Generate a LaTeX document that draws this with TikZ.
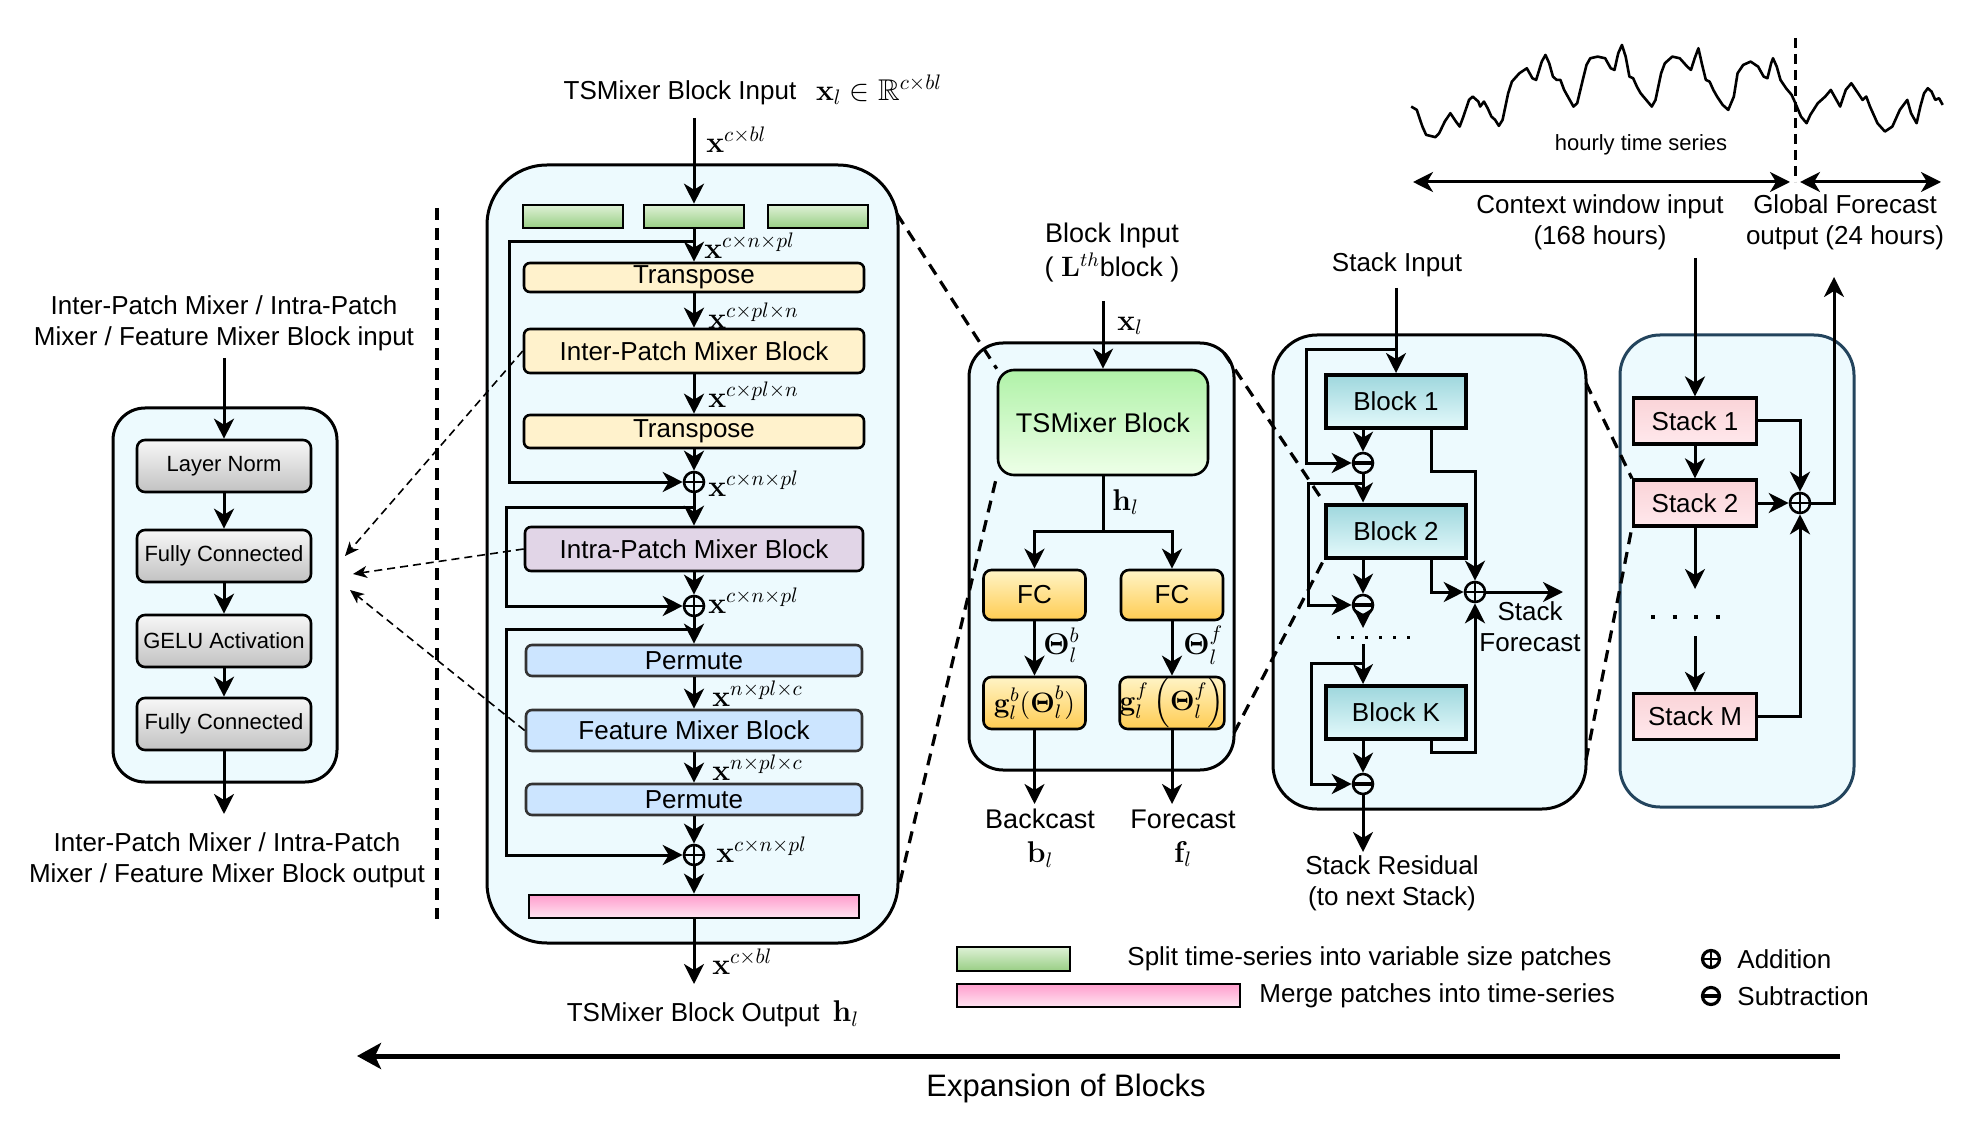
\RequirePackage{fix-cm}
\documentclass[tikz,border=0pt]{standalone}
\usepackage{amsmath,amssymb}
\usepackage[no-math]{fontspec}
\setmainfont{Liberation Sans}
\usepackage{tikz}
\usetikzlibrary{arrows,arrows.meta,positioning,shapes,backgrounds}

\definecolor{panelbg}{RGB}{237,250,254}
\definecolor{slate}{RGB}{35,68,93}
\definecolor{greentop}{RGB}{222,241,214}
\definecolor{greenbot}{RGB}{152,206,132}
\definecolor{cream}{RGB}{255,242,204}
\definecolor{lavender}{RGB}{225,213,231}
\definecolor{skyblue}{RGB}{204,229,255}
\definecolor{pinktop}{RGB}{255,158,205}
\definecolor{pinkbot}{RGB}{255,228,241}
\definecolor{tsmtop}{RGB}{176,242,168}
\definecolor{tsmbot}{RGB}{238,255,232}
\definecolor{fctop}{RGB}{255,244,198}
\definecolor{fcbot}{RGB}{255,204,82}
\definecolor{tealtop}{RGB}{158,215,221}
\definecolor{tealbot}{RGB}{228,249,251}
\definecolor{stacktop}{RGB}{250,212,216}
\definecolor{stackbot}{RGB}{255,232,236}

\newcommand{\lblsize}{\fontsize{15}{18}\selectfont}

\tikzstyle{panel}=[draw,line width=1.5pt,fill=panelbg,inner sep=0pt]
\tikzstyle{graybox}=[draw,line width=1.3pt,rounded corners=4pt,top color=gray!6,bottom color=gray!48,minimum width=87pt,minimum height=26pt,inner sep=0pt,font=\fontsize{11}{13}\selectfont]
\tikzstyle{patchbox}=[draw,line width=1.3pt,top color=greentop,bottom color=greenbot,minimum width=50pt,minimum height=11.5pt,inner sep=0pt]
\tikzstyle{mergebox}=[draw,line width=1.3pt,top color=pinktop,bottom color=pinkbot,minimum width=165pt,minimum height=11.5pt,inner sep=0pt]
\tikzstyle{yellowbox}=[draw,line width=1.3pt,rounded corners=3pt,fill=cream,minimum width=170pt,inner sep=0pt]
\tikzstyle{purplebox}=[draw,line width=1.3pt,rounded corners=3pt,fill=lavender,minimum width=169pt,minimum height=22pt,inner sep=0pt]
\tikzstyle{bluebox}=[draw=black!80,line width=1.3pt,rounded corners=3pt,fill=skyblue,minimum width=168pt,inner sep=0pt]
\tikzstyle{tsmbox}=[draw,line width=1.3pt,rounded corners=8pt,top color=tsmtop,bottom color=tsmbot,minimum width=105pt,minimum height=52.5pt,font=\fontsize{13.5}{16}\selectfont]
\tikzstyle{fcbox}=[draw,line width=1.3pt,rounded corners=4pt,top color=fctop,bottom color=fcbot,minimum width=51pt,minimum height=25pt,inner sep=0pt]
\tikzstyle{gfbox}=[fcbox,minimum height=26pt,font=\fontsize{14}{16}\selectfont]
\tikzstyle{blockbox}=[draw,line width=2pt,top color=tealtop,bottom color=tealbot,minimum width=70pt,minimum height=26.5pt,inner sep=0pt]
\tikzstyle{stackbox}=[draw,line width=1.6pt,top color=stacktop,bottom color=stackbot,minimum width=61.5pt,minimum height=23pt,inner sep=0pt]
\tikzstyle{addop}=[circle,draw,line width=1.3pt,fill=panelbg,minimum size=10pt,inner sep=0pt,
  path picture={\draw[line width=1.3pt] (path picture bounding box.north) -- (path picture bounding box.south)
    (path picture bounding box.west) -- (path picture bounding box.east);}]
\tikzstyle{subop}=[circle,draw,line width=1.3pt,fill=panelbg,minimum size=10pt,inner sep=0pt,
  path picture={\draw[line width=1.8pt] (path picture bounding box.west) -- (path picture bounding box.east);}]
\tikzstyle{arr}=[-{Stealth[length=10pt,width=10pt,inset=3pt]},line width=1.5pt]
\tikzstyle{wire}=[line width=1.5pt]
\tikzstyle{thinarr}=[-{Stealth[length=7pt,width=6pt,inset=2pt]},line width=0.8pt,dash pattern=on 4pt off 2.5pt]
\tikzstyle{zoomline}=[line width=1.6pt,dash pattern=on 6pt off 4pt]
\tikzstyle{mlbl}=[anchor=west,inner sep=0pt,font=\lblsize]
\tikzstyle{dotline}=[line width=1.5pt]

\begin{document}
\begin{tikzpicture}[x=0.5pt,y=-0.5pt,font=\fontsize{13}{15.5}\selectfont]
\useasboundingbox (0,0) rectangle (1972,1139);

% outer panels
\node[panel,rounded corners=16pt,minimum width=112pt,minimum height=187pt] (mixer) at (225,595) {};
\node[panel,rounded corners=30pt,minimum width=205.5pt,minimum height=389pt] (tsmx) at (692.5,554) {};
\node[panel,rounded corners=17pt,minimum width=132.5pt,minimum height=213.5pt] (blk) at (1101.5,556.5) {};
\node[panel,rounded corners=22pt,minimum width=156.5pt,minimum height=237pt] (stk) at (1429.5,572) {};
\node[panel,draw=slate,rounded corners=20pt,minimum width=117pt,minimum height=236pt] (glob) at (1737,571) {};

% mixer block
\node[align=center] (mixin) at (224,323) {Inter-Patch Mixer / Intra-Patch\\Mixer / Feature Mixer Block input};
\coordinate (mixtop) at (224,358);
\node[graybox] (ln) at (224,466) {Layer Norm};
\node[graybox] (fc1) at (224,556) {Fully Connected};
\node[graybox] (gelu) at (224,641) {GELU Activation};
\node[graybox] (fc2) at (224,724) {Fully Connected};
\coordinate (mixbot) at (224,814);
\node[align=center] (mixout) at (227,860) {Inter-Patch Mixer / Intra-Patch\\Mixer / Feature Mixer Block output};

\draw[arr] (mixtop) -- (ln);
\draw[arr] (ln) -- (fc1);
\draw[arr] (fc1) -- (gelu);
\draw[arr] (gelu) -- (fc2);
\draw[arr] (fc2) -- (mixbot);

\draw[zoomline] (437,208) -- (437,919);

% TSMixer block
\node (tsin) at (680,93) {TSMixer Block Input};
\node[font=\lblsize] (tsinx) at (879,90) {$\mathbf{x}_l \in \mathbb{R}^{c\times bl}$};
\coordinate (tstop) at (694,118);
\node[patchbox] (pa) at (573,216.5) {};
\node[patchbox] (pb) at (694,216.5) {};
\node[patchbox] (pc) at (818,216.5) {};
\node[yellowbox,minimum height=14.5pt] (tr1) at (694,277.5) {Transpose};
\node[yellowbox,minimum height=22pt] (inter) at (694,351) {Inter-Patch Mixer Block};
\node[yellowbox,minimum height=16.5pt] (tr2) at (694,431.5) {Transpose};
\node[addop] (add1) at (694,482) {};
\node[purplebox] (intra) at (694,549) {Intra-Patch Mixer Block};
\node[addop] (add2) at (694,606) {};
\node[bluebox,minimum height=15.5pt] (perm1) at (694,660.5) {Permute};
\node[bluebox,minimum height=20.5pt] (feat) at (694,730.5) {Feature Mixer Block};
\node[bluebox,minimum height=15.5pt] (perm2) at (694,799.5) {Permute};
\node[addop] (add3) at (694,855) {};
\node[mergebox] (merge) at (694,906.5) {};
\coordinate (tsbot) at (694,984);
\node (tsout) at (713,1014) {TSMixer Block Output\enspace{\lblsize$\mathbf{h}_l$}};

\draw[arr] (tstop) -- (pb);
\draw[arr] (pb) -- (tr1);
\draw[arr] (tr1) -- (inter);
\draw[arr] (inter) -- (tr2);
\draw[arr] (tr2) -- (add1);
\draw[arr] (add1) -- (intra);
\draw[arr] (intra) -- (add2);
\draw[arr] (add2) -- (perm1);
\draw[arr] (perm1) -- (feat);
\draw[arr] (feat) -- (perm2);
\draw[arr] (perm2) -- (add3);
\draw[arr] (add3) -- (merge);
\draw[arr] (merge) -- (tsbot);

% residual paths
\coordinate (sk1) at (694,242);
\coordinate (sk2) at (694,507);
\coordinate (sk3) at (694,629);
\draw[arr] (sk1) -- ++(-185,0) |- (add1);
\draw[arr] (sk2) -- ++(-188,0) |- (add2);
\draw[arr] (sk3) -- ++(-188,0) |- (add3);

\node[mlbl] (l0) at (706,140) {$\mathbf{x}^{c\times bl}$};
\node[mlbl] (l1) at (704,246) {$\mathbf{x}^{c\times n\times pl}$};
\node[mlbl] (l2) at (708,316) {$\mathbf{x}^{c\times pl\times n}$};
\node[mlbl] (l3) at (708,395) {$\mathbf{x}^{c\times pl\times n}$};
\node[mlbl] (l4) at (708,484) {$\mathbf{x}^{c\times n\times pl}$};
\node[mlbl] (l5) at (708,601) {$\mathbf{x}^{c\times n\times pl}$};
\node[mlbl] (l6) at (712,694) {$\mathbf{x}^{n\times pl\times c}$};
\node[mlbl] (l7) at (712,768) {$\mathbf{x}^{n\times pl\times c}$};
\node[mlbl] (l8) at (716,850) {$\mathbf{x}^{c\times n\times pl}$};
\node[mlbl] (l9) at (712,962) {$\mathbf{x}^{c\times bl}$};

\coordinate (t1) at (345,556);
\coordinate (t2) at (353,574);
\coordinate (t3) at (350,590);
\draw[thinarr] (inter.west) -- (t1);
\draw[thinarr] (intra.west) -- (t2);
\draw[thinarr] (feat.west) -- (t3);

% L-th block
\node[align=center,font=\fontsize{13.5}{17}\selectfont] (blkin) at (1112,253) {Block Input\\( {\fontsize{14}{16}\selectfont$\mathbf{L}^{th}$}block )};
\coordinate (blktop) at (1103,301);
\node[tsmbox] (tsm) at (1103,422.5) {TSMixer Block};
\node[mlbl] (xl) at (1117,326) {$\mathbf{x}_l$};
\coordinate (split) at (1103,531);
\node[mlbl] (hl) at (1112,502) {$\mathbf{h}_l$};
\node[fcbox] (fcb) at (1034.5,595) {FC};
\node[fcbox] (fcf) at (1172,595) {FC};
\node[gfbox] (gb) at (1034.5,703) {$\mathbf{g}_l^b(\boldsymbol{\Theta}_l^b)$};
\node[gfbox] (gf) at (1172,703) {$\mathbf{g}_l^f\left(\boldsymbol{\Theta}_l^f\right)$};
\node[mlbl] (thb) at (1043,645) {$\boldsymbol{\Theta}_l^b$};
\node[mlbl] (thf) at (1183,645) {$\boldsymbol{\Theta}_l^f$};
\coordinate (bend) at (1034.5,804);
\coordinate (fend) at (1172,804);
\node[align=center,font=\fontsize{13.5}{17}\selectfont] (bcast) at (1040,838) {Backcast\\{\lblsize$\mathbf{b}_l$}};
\node[align=center,font=\fontsize{13.5}{17}\selectfont] (fcast) at (1183,838) {Forecast\\{\lblsize$\mathbf{f}_l$}};

\draw[arr] (blktop) -- (tsm);
\draw[wire] (tsm) -- (split);
\draw[arr] (split) -| (fcb);
\draw[arr] (split) -| (fcf);
\draw[arr] (fcb) -- (gb);
\draw[arr] (fcf) -- (gf);
\draw[arr] (gb) -- (bend);
\draw[arr] (gf) -- (fend);

% stack
\node (stkin) at (1397,265) {Stack Input};
\coordinate (stktop) at (1396,288);
\node[blockbox] (b1) at (1396,401.5) {Block 1};
\node[blockbox] (b2) at (1396,531) {Block 2};
\node[blockbox] (bk) at (1396,712.5) {Block K};
\node[subop] (sub1) at (1363,463) {};
\node[subop] (sub2) at (1363,605) {};
\node[subop] (sub3) at (1363,784) {};
\node[addop] (sadd) at (1475,592) {};
\coordinate (sfc) at (1563,592);
\node[align=center] (sfctxt) at (1530,627) {Stack\\Forecast};
\coordinate (dk1) at (1363,628);
\coordinate (dk2) at (1363,644);
\coordinate (sres) at (1363,852);
\node[align=center] (srestxt) at (1392,883) {Stack Residual\\(to next Stack)};

\draw[arr] (stktop) -- (b1);
\coordinate (sk4) at (1396,350);
\coordinate (sk5) at (1363,483);
\coordinate (sk6) at (1363,663);
\draw[arr] (sk4) -- ++(-90,0) |- (sub1);
\draw[arr] (sk5) -- ++(-55,0) |- (sub2);
\draw[arr] (sk6) -- ++(-52,0) |- (sub3);
\draw[arr] (b1.south -| sub1) -- (sub1);
\draw[arr] (sub1) -- (sub1 |- b2.north);
\draw[arr] (b2.south -| sub2) -- (sub2);
\draw[arr] (sub2) -- (dk1);
\draw[dotline,dash pattern=on 1.5pt off 5.5pt] (1337,637) -- (1410,637);
\draw[arr] (dk2) -- (dk2 |- bk.north);
\draw[arr] (bk.south -| sub3) -- (sub3);
\draw[arr] (sub3) -- (sres);
\draw[arr] ([xshift=17.5pt]b1.south) -- ++(0,41) -| (sadd);
\draw[arr] ([xshift=17.5pt]b2.south) |- (sadd);
\draw[arr] ([xshift=17.5pt]bk.south) -- ++(0,11) -| (sadd);
\draw[arr] (sadd) -- (sfc);

% global model
\coordinate (ctxin) at (1695,258);
\node[stackbox] (s1) at (1695,421) {Stack 1};
\node[stackbox] (s2) at (1695,503) {Stack 2};
\node[stackbox] (sm) at (1695,716.5) {Stack M};
\node[addop] (gadd) at (1800,503) {};
\coordinate (gd1) at (1695,589);
\coordinate (gd2) at (1695,636);
\coordinate (gfout) at (1834,277);

\draw[arr] (ctxin) -- (s1);
\draw[arr] (s1) -- (s2);
\draw[arr] (s2) -- (gd1);
\draw[dotline,line width=2pt,dash pattern=on 2pt off 8.8pt] (1651,617) -- (1720,617);
\draw[arr] (gd2) -- (sm);
\draw[arr] (s1) -| (gadd);
\draw[arr] (s2) -- (gadd);
\draw[arr] (sm) -| (gadd);
\draw[arr] (gadd) -| (gfout);

% zoom lines
\coordinate (z1) at (897,214);
\coordinate (z2) at (900,882);
\coordinate (z3) at (1224,353);
\coordinate (z4) at (1234,733);
\coordinate (z5) at (1586,383);
\coordinate (z6) at (1586,760);
\draw[zoomline] (z1) -- (tsm.north west);
\draw[zoomline] (z2) -- (tsm.south west);
\draw[zoomline] (z3) -- (b2.north west);
\draw[zoomline] (z4) -- (b2.south west);
\draw[zoomline] (z5) -- (s2.north west);
\draw[zoomline] (z6) -- (s2.south west);

% time series
\begin{scope}[shift={(1400,0)},xscale=0.373,yscale=0.333]
\draw[line width=1.3pt,line join=round] plot coordinates {(30,320) (45,330) (60,380) (70,405) (95,412) (105,400) (120,365) (135,340) (150,365) (160,380) (170,350) (185,300) (195,290) (210,305) (215,320) (225,305) (235,325) (245,350) (255,360) (265,378) (275,360) (290,280) (300,245) (320,220) (340,205) (355,235) (365,240) (380,185) (390,165) (400,190) (410,230) (420,240) (430,240) (440,270) (450,290) (465,320) (475,310) (490,240) (500,195) (510,175) (530,170) (550,175) (565,205) (575,210) (585,160) (595,135) (605,170) (615,230) (625,235) (635,260) (645,280) (660,300) (675,320) (685,300) (700,220) (710,190) (730,170) (750,175) (770,200) (780,210) (790,175) (800,145) (810,195) (820,240) (830,245) (840,270) (850,290) (865,315) (880,330) (895,290) (905,220) (920,195) (940,185) (960,200) (975,230) (985,235) (995,190) (1000,175) (1010,200) (1020,240) (1035,265) (1050,285) (1060,310) (1075,350) (1090,370) (1100,345) (1120,310) (1140,290) (1155,270) (1165,290) (1180,320) (1195,270) (1210,250) (1225,275) (1240,300) (1250,290) (1260,320) (1280,370) (1300,395) (1320,380) (1340,330) (1360,300) (1370,340) (1385,370) (1395,320) (1405,280) (1415,265) (1425,275) (1435,300) (1445,295) (1455,315)};
\end{scope}
\draw[line width=1.5pt,dash pattern=on 5pt off 3pt] (1795,38) -- (1795,182);
\node[font=\fontsize{11}{13}\selectfont] (hourly) at (1641,145) {hourly time series};
\coordinate (cwa) at (1413,182);
\coordinate (cwb) at (1790,182);
\coordinate (gfa) at (1800,182);
\coordinate (gfb) at (1941,182);
\draw[{Stealth[length=10pt,width=10pt,inset=3pt]}-{Stealth[length=10pt,width=10pt,inset=3pt]},line width=1.5pt] (cwa) -- (cwb);
\draw[{Stealth[length=10pt,width=10pt,inset=3pt]}-{Stealth[length=10pt,width=10pt,inset=3pt]},line width=1.5pt] (gfa) -- (gfb);
\node[align=center] (ctxtxt) at (1600,222) {Context window input\\(168 hours)};
\node[align=center] (gftxt) at (1845,222) {Global Forecast\\output (24 hours)};

% legend
\node[patchbox,minimum width=56.5pt,minimum height=12pt] (legsplit) at (1013.5,959) {};
\node[mergebox,minimum width=141.5pt] (legmerge) at (1098.5,995.5) {};
\node[anchor=west,inner sep=0pt] (legsplittxt) at (1127,959) {Split time-series into variable size patches};
\node[anchor=west,inner sep=0pt] (legmergetxt) at (1259,996) {Merge patches into time-series};
\node[addop,fill=white,minimum size=8.5pt,line width=1.6pt] (legadd) at (1711,959) {};
\node[subop,fill=white,minimum size=8.5pt,line width=1.6pt] (legsub) at (1711,996) {};
\node[anchor=west,inner sep=0pt] (legaddtxt) at (1737,959) {Addition};
\node[anchor=west,inner sep=0pt] (legsubtxt) at (1737,996) {Subtraction};

% expansion arrow
\coordinate (expR) at (1840,1056);
\coordinate (expL) at (357,1056);
\draw[-{Stealth[length=12pt,width=13pt,inset=3pt]},line width=2.5pt] (expR) -- (expL);
\node[font=\fontsize{15.5}{18}\selectfont] (exptxt) at (1066,1088) {Expansion of Blocks};

\end{tikzpicture}
\end{document}
